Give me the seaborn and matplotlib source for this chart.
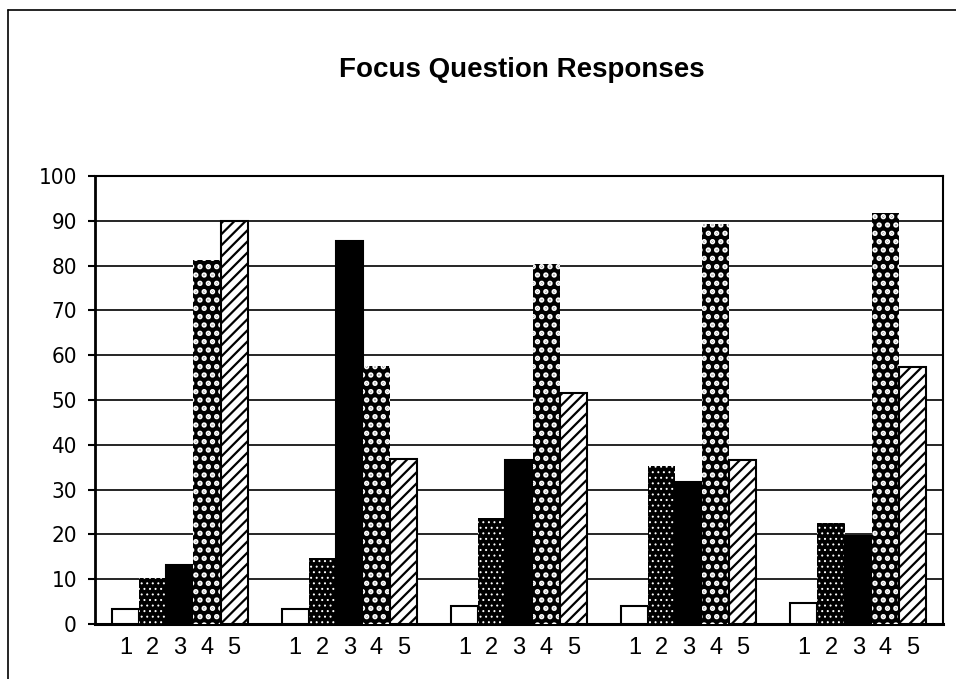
import matplotlib
matplotlib.use("Agg")
import matplotlib.pyplot as plt
from matplotlib.lines import Line2D
import pandas as pd
import seaborn as sns

# data
groups = ["Q1", "Q2", "Q3", "Q4", "Q5"]
responses = ["1", "2", "3", "4", "5"]
resp_1 = [3.4, 3.4, 4.0, 4.0, 4.7]
resp_2 = [10.2, 14.7, 23.7, 35.2, 22.6]
resp_3 = [13.1, 85.6, 36.7, 31.6, 19.6]
resp_4 = [81.3, 57.7, 80.4, 89.3, 91.8]
resp_5 = [90.0, 36.9, 51.6, 36.6, 57.4]
y_ticks = [0, 10, 20, 30, 40, 50, 60, 70, 80, 90, 100]
title = "Focus Question Responses"

values = [resp_1, resp_2, resp_3, resp_4, resp_5]
df = pd.DataFrame({
    "group": [g for r in responses for g in groups],
    "response": [r for r in responses for g in groups],
    "value": [v for vals in values for v in vals],
})

sns.set_theme(style="white")
plt.rcParams["font.family"] = ["Liberation Sans", "DejaVu Sans"]
plt.rcParams["hatch.linewidth"] = 1.6

fig = plt.figure(figsize=(9.56, 6.79), dpi=100)
ax = fig.add_axes([0.0994, 0.081, 0.8870, 0.6598])

sns.barplot(data=df, x="group", y="value", hue="response", order=groups,
            hue_order=responses, width=0.8, dodge=True, legend=False,
            errorbar=None, ax=ax)

# bar styles: white, fine dots on black, solid black, checker, diagonal stripes
styles = [
    dict(fc="white", ec="black", hatch=None, lw=1.5, hlw=None),
    dict(fc="black", ec="white", hatch="...", lw=0, hlw=0.7),
    dict(fc="black", ec="black", hatch=None, lw=1.5, hlw=None),
    dict(fc="black", ec="white", hatch="..", lw=0, hlw=2.6),
    dict(fc="white", ec="black", hatch="///", lw=1.5, hlw=1.6),
]
for cont, st in zip(ax.containers, styles):
    for p in cont.patches:
        p.set_facecolor(st["fc"])
        p.set_edgecolor(st["ec"])
        p.set_linewidth(st["lw"])
        p.set_zorder(3)
        if st["hatch"]:
            p.set_hatch(st["hatch"])
            if hasattr(p, "set_hatch_linewidth"):
                p.set_hatch_linewidth(st["hlw"])

# x labels under each bar
centers = []
labels = []
for cont, r in zip(ax.containers, responses):
    for p in cont.patches:
        centers.append(p.get_x() + p.get_width() / 2)
        labels.append(r)
ax.set_xticks(centers)
ax.set_xticklabels(labels, fontsize=17, color="black")
ax.tick_params(axis="x", length=0, pad=9)

ax.set_xlim(-0.5, 4.5)
ax.set_ylim(0, 100)
ax.set_yticks(y_ticks)
ax.set_yticklabels([str(t) for t in y_ticks], fontsize=16, color="black",
                   family=["DejaVu Sans"], fontstretch="condensed")
ax.tick_params(axis="y", direction="out", length=5, width=1.5, color="black",
               pad=8, left=True)
ax.set_xlabel("")
ax.set_ylabel("")

ax.yaxis.grid(True, color="black", linewidth=1.2, zorder=1)
ax.set_axisbelow(True)
for side, lw in [("left", 2.0), ("bottom", 2.2), ("top", 1.5), ("right", 1.5)]:
    ax.spines[side].set_visible(True)
    ax.spines[side].set_color("black")
    ax.spines[side].set_linewidth(lw)

fig.text(0.546, 0.897, title, ha="center", va="center", fontsize=20,
         fontweight="bold", color="black")

# outer frame (top and left edge of the scanned figure)
fig.add_artist(Line2D([8 / 956, 1.0], [1 - 10 / 679, 1 - 10 / 679],
                      transform=fig.transFigure, color="black", lw=1.2))
fig.add_artist(Line2D([8 / 956, 8 / 956], [0.0, 1 - 10 / 679],
                      transform=fig.transFigure, color="black", lw=1.2))

fig.savefig("out.png", dpi=100, facecolor="white")
